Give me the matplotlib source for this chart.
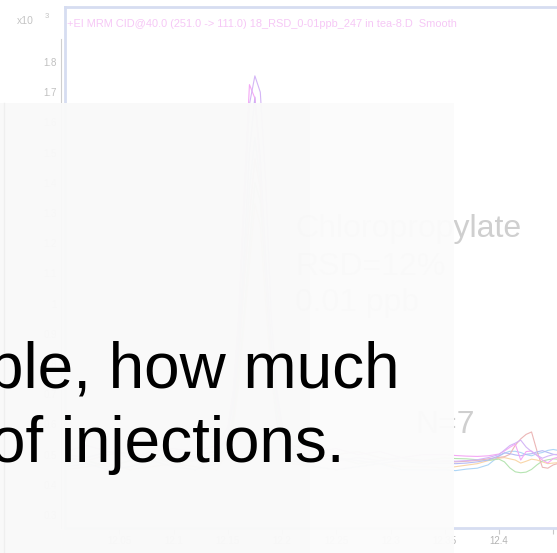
import matplotlib.pyplot as plt
from matplotlib.patches import Rectangle
from matplotlib.lines import Line2D
from matplotlib.ticker import FormatStrFormatter

plt.rcParams['font.family'] = ['Liberation Sans', 'DejaVu Sans']

# acquisition time (min)
rt = [12.00, 12.02, 12.04, 12.06, 12.08, 12.10, 12.12, 12.14,
      12.15, 12.155, 12.16, 12.165, 12.17, 12.175, 12.18, 12.185, 12.19, 12.195, 12.20, 12.21,
      12.23, 12.25, 12.27, 12.29, 12.31, 12.33,
      12.35, 12.36, 12.37, 12.38, 12.39, 12.40, 12.405, 12.41, 12.415, 12.42, 12.425, 12.43,
      12.435, 12.44, 12.445, 12.45, 12.46, 12.48]

# counts (x10^3) for the 7 replicate injections
inj_pink = [0.51, 0.53, 0.51, 0.49, 0.51, 0.52, 0.51, 0.53,
            0.59, 0.71, 0.96, 1.36, 1.725, 1.68, 1.45, 1.10, 0.84, 0.68, 0.60, 0.53,
            0.51, 0.52, 0.50, 0.51, 0.49, 0.50,
            0.500, 0.497, 0.495, 0.494, 0.496, 0.502, 0.512, 0.524, 0.535, 0.482, 0.510, 0.512,
            0.497, 0.482, 0.472, 0.487, 0.497, 0.49]
inj_rose = [0.49, 0.48, 0.50, 0.51, 0.49, 0.48, 0.50, 0.51,
            0.55, 0.63, 0.81, 1.06, 1.29, 1.48, 1.38, 1.12, 0.86, 0.68, 0.58, 0.52,
            0.49, 0.50, 0.51, 0.49, 0.48, 0.48,
            0.477, 0.476, 0.478, 0.481, 0.486, 0.491, 0.493, 0.501, 0.531, 0.552, 0.567, 0.575,
            0.512, 0.458, 0.455, 0.466, 0.476, 0.48]
inj_green = [0.47, 0.48, 0.46, 0.48, 0.49, 0.47, 0.48, 0.49,
             0.53, 0.61, 0.76, 0.96, 1.19, 1.40, 1.34, 1.08, 0.82, 0.65, 0.56, 0.50,
             0.48, 0.49, 0.47, 0.48, 0.49, 0.48,
             0.489, 0.487, 0.486, 0.483, 0.481, 0.485, 0.476, 0.456, 0.443, 0.440, 0.442, 0.451,
             0.466, 0.479, 0.483, 0.486, 0.483, 0.48]
inj_blue = [0.50, 0.49, 0.51, 0.50, 0.48, 0.50, 0.49, 0.50,
            0.57, 0.67, 0.86, 1.16, 1.50, 1.684, 1.48, 1.15, 0.87, 0.70, 0.60, 0.52,
            0.48, 0.49, 0.48, 0.47, 0.48, 0.47,
            0.472, 0.470, 0.472, 0.476, 0.482, 0.496, 0.506, 0.503, 0.499, 0.496, 0.501, 0.503,
            0.509, 0.513, 0.507, 0.501, 0.496, 0.49]
inj_sky = [0.46, 0.47, 0.45, 0.46, 0.48, 0.46, 0.45, 0.47,
           0.53, 0.63, 0.83, 1.10, 1.38, 1.55, 1.40, 1.08, 0.80, 0.62, 0.53, 0.48,
           0.46, 0.45, 0.46, 0.47, 0.45, 0.45,
           0.450, 0.447, 0.452, 0.455, 0.466, 0.495, 0.505, 0.511, 0.511, 0.507, 0.500, 0.496,
           0.503, 0.507, 0.514, 0.517, 0.51, 0.50]
inj_orange = [0.45, 0.46, 0.47, 0.45, 0.46, 0.47, 0.46, 0.45,
              0.51, 0.59, 0.73, 0.93, 1.13, 1.33, 1.26, 1.00, 0.77, 0.61, 0.52, 0.47,
              0.46, 0.45, 0.46, 0.47, 0.46, 0.46,
              0.456, 0.460, 0.465, 0.470, 0.480, 0.488, 0.490, 0.486, 0.482, 0.472, 0.478, 0.485,
              0.482, 0.476, 0.470, 0.472, 0.475, 0.48]
inj_violet = [0.48, 0.49, 0.51, 0.49, 0.50, 0.49, 0.48, 0.49,
              0.57, 0.69, 0.91, 1.30, 1.66, 1.754, 1.70, 1.40, 0.96, 0.72, 0.60, 0.51,
              0.49, 0.48, 0.49, 0.48, 0.49, 0.47,
              0.480, 0.478, 0.480, 0.483, 0.490, 0.500, 0.515, 0.530, 0.538, 0.548, 0.525, 0.510,
              0.498, 0.488, 0.495, 0.500, 0.502, 0.50]

traces = [(inj_orange, '#f9d6a8'), (inj_sky, '#aed6f6'), (inj_green, '#b6e4b2'),
          (inj_rose, '#ecb6b6'), (inj_blue, '#b6baf4'), (inj_pink, '#f5a8f5'),
          (inj_violet, '#d4b6f6')]

x_ticks = [12.05, 12.1, 12.15, 12.2, 12.25, 12.3, 12.35, 12.4, 12.45, 12.5, 12.55]
x_labels = ['12.05', '12.1', '12.15', '12.2', '12.25', '12.3', '12.35', '12.4', '', '', '']
y_ticks = [0.3, 0.4, 0.5, 0.6, 0.7, 0.8, 0.9, 1.0, 1.1, 1.2, 1.3, 1.4, 1.5, 1.6, 1.7, 1.8]

fig = plt.figure(figsize=(5.57, 5.53), dpi=100)
fig.patch.set_facecolor('white')

# chromatogram axes run off the right edge of the page
W, H = 557.0, 553.0
ax = fig.add_axes([65 / W, 1 - 528 / H, 651 / W, 521 / H])
for y, c in traces:
    ax.plot(rt, y, color=c, lw=0.8)

ax.set_xlim(12.0, 12.6)
ax.set_ylim(0.257, 1.982)
ax.set_xticks(x_ticks, x_labels)
ax.set_yticks(y_ticks)
ax.yaxis.set_major_formatter(FormatStrFormatter('%g'))
ax.tick_params(axis='x', length=4, width=0.8, color='#c8c8c8', labelcolor='#b4b4b4',
               labelsize=7, pad=2)
ax.tick_params(axis='y', length=0, labelcolor='#c0c0c0', labelsize=7, pad=3)

for side in ['top', 'bottom', 'right']:
    ax.spines[side].set_color('#d6ddf1')
    ax.spines[side].set_linewidth(2)
ax.spines['left'].set_color('#cfcfcf')
ax.spines['left'].set_linewidth(0.8)
ax.spines['left'].set_position(('outward', 3))
ax.spines['left'].set_bounds(0.257, 1.876)
ax.plot([0, 0], [0, 1], transform=ax.transAxes, color='#d6ddf1', lw=2, clip_on=False)

ax.text(0.003, 0.967, '+EI MRM CID@40.0 (251.0 -> 111.0) 18_RSD_0-01ppb_247 in tea-8.D  Smooth',
        transform=ax.transAxes, color='#f6c8f6', fontsize=7.9, va='center')
fig.text(17 / W, 1 - 21 / H, 'x10', color='#c4c4c4', fontsize=7.5, va='center')
fig.text(45 / W, 1 - 17 / H, '3', color='#c4c4c4', fontsize=5.5, va='center')

# compound annotation
note_color = '#cfcfcf'
ax.text(12.212, 1.2205, 'Chloropropylate', color=note_color, fontsize=23, va='baseline')
ax.text(12.212, 1.095, 'RSD=12%', color=note_color, fontsize=23, va='baseline')
ax.text(12.212, 0.976, '0.01 ppb', color=note_color, fontsize=23, va='baseline')
ax.text(12.3226, 0.5715, 'N=7', color=note_color, fontsize=23, va='baseline')

# text panel laid over the lower left of the chart
fig.patches.append(Rectangle((0, 0), 454 / W, (H - 103) / H, transform=fig.transFigure,
                             facecolor='#fbfbfb', edgecolor='none', alpha=0.978, zorder=5))
fig.patches.append(Rectangle((0, 0), 310 / W, (H - 103) / H, transform=fig.transFigure,
                             facecolor='#f3f3f3', edgecolor='none', alpha=0.2, zorder=5.1))
fig.lines.append(Line2D([3.5 / W, 3.5 / W], [0, (H - 103) / H], transform=fig.transFigure,
                        color='#efefef', lw=1, zorder=5.2))

fig.text(-12 / W, 1 - 387 / H, 'ble, how much', color='black', fontsize=46,
         va='baseline', ha='left', zorder=6)
fig.text(-10 / W, 1 - 462 / H, 'of injections.', color='black', fontsize=46,
         va='baseline', ha='left', zorder=6)

fig.savefig('out.png', dpi=100)
